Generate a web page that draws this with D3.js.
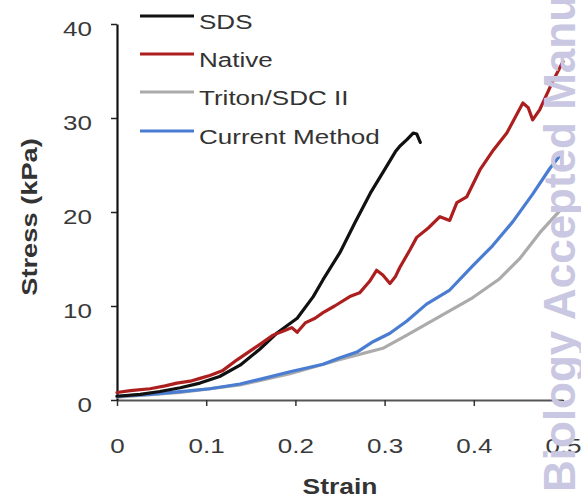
<!DOCTYPE html>
<html>
<head>
<meta charset="utf-8">
<script src="https://cdn.jsdelivr.net/npm/d3@7"></script>
<style>
  body { margin: 0; background: #fff; }
  svg { display: block; font-family: "Liberation Sans", Arial, sans-serif; }
</style>
</head>
<body>
<div id="chart"></div>
<script>
// stress-strain curves
var sdsStrain = [0, 0.026, 0.048, 0.071, 0.093, 0.115, 0.138, 0.160, 0.179, 0.202, 0.220, 0.231, 0.250, 0.267, 0.284, 0.300, 0.312, 0.317, 0.325, 0.332, 0.336, 0.340];
var sdsStress = [0.4, 0.6, 0.9, 1.3, 1.8, 2.5, 3.7, 5.4, 7.1, 8.7, 11.0, 12.8, 15.7, 18.9, 22.0, 24.5, 26.4, 27.0, 27.7, 28.4, 28.3, 27.4];

var nativeStrain = [0, 0.015, 0.037, 0.054, 0.067, 0.082, 0.093, 0.104, 0.118, 0.135, 0.149, 0.163, 0.175, 0.188, 0.196, 0.202, 0.211, 0.222, 0.231, 0.244, 0.261, 0.272, 0.283, 0.291, 0.298, 0.306, 0.312, 0.317, 0.328, 0.336, 0.349, 0.362, 0.373, 0.381, 0.392, 0.407, 0.422, 0.437, 0.446, 0.455, 0.461, 0.466, 0.474, 0.489, 0.500];
var nativeStress = [0.8, 1.0, 1.2, 1.5, 1.8, 2.0, 2.3, 2.6, 3.1, 4.3, 5.2, 6.1, 6.9, 7.4, 7.7, 7.2, 8.2, 8.7, 9.3, 10.0, 11.0, 11.4, 12.6, 13.8, 13.3, 12.4, 13.1, 14.1, 15.9, 17.3, 18.3, 19.5, 19.1, 21.0, 21.6, 24.5, 26.6, 28.4, 30.0, 31.6, 31.1, 29.8, 30.9, 34.0, 36.0];

var tritonStrain = [0, 0.071, 0.138, 0.194, 0.250, 0.298, 0.325, 0.362, 0.399, 0.429, 0.452, 0.474, 0.497];
var tritonStress = [0.3, 0.8, 1.6, 2.8, 4.3, 5.5, 6.9, 8.9, 10.9, 12.9, 15.1, 17.8, 20.2];

var currentStrain = [0, 0.037, 0.071, 0.104, 0.138, 0.160, 0.194, 0.231, 0.250, 0.269, 0.287, 0.306, 0.325, 0.347, 0.373, 0.399, 0.421, 0.444, 0.466, 0.485, 0.499];
var currentStress = [0.4, 0.6, 0.9, 1.2, 1.7, 2.2, 3.0, 3.8, 4.5, 5.1, 6.2, 7.1, 8.4, 10.2, 11.7, 14.3, 16.4, 19.0, 21.9, 24.6, 26.3];

var seriesNames = ["SDS", "Native", "Triton/SDC II", "Current Method"];
var seriesColors = ["#111111", "#ad1f1f", "#ababab", "#4a7dd2"];

var xTicks = [0, 0.1, 0.2, 0.3, 0.4, 0.5];
var yTicks = [0, 10, 20, 30, 40];

var w = 581, h = 500;
var stretch = 1.24; // the original lettering is wide, so stretch Arial sideways

var svg = d3.select("#chart").append("svg")
    .attr("width", w)
    .attr("height", h);

svg.append("rect").attr("width", w).attr("height", h).attr("fill", "#fff");

var x = d3.scaleLinear().domain([0, 0.5]).range([117, 563]);
var y = d3.scaleLinear().domain([0, 40]).range([400, 24]);

// x axis
var gx = svg.append("g")
    .attr("transform", "translate(0,400)")
    .call(d3.axisBottom(x).tickValues(xTicks).tickSize(6).tickSizeOuter(0)
        .tickFormat(function(d) { return d === 0 ? "0" : d3.format(".1f")(d); }));
gx.select(".domain").attr("stroke", "#555").attr("stroke-width", 2.2);
gx.selectAll(".tick line").attr("stroke", "#333").attr("stroke-width", 1.5);
gx.selectAll(".tick text")
    .attr("y", 53).attr("dy", 0)
    .attr("transform", "scale(" + stretch + ",1)")
    .attr("fill", "#3a3a3a")
    .style("font-size", "21px")
    .style("font-family", "'Liberation Sans', Arial, sans-serif");

// y axis
var gy = svg.append("g")
    .attr("transform", "translate(117,0)")
    .call(d3.axisLeft(y).tickValues(yTicks).tickSize(6).tickSizeOuter(0));
gy.select(".domain").attr("stroke", "#111").attr("stroke-width", 2.2);
gy.selectAll(".tick line").attr("stroke", "#222").attr("stroke-width", 1.5);
gy.selectAll(".tick text")
    .attr("x", -25 / stretch).attr("dy", 11)
    .attr("transform", "scale(" + stretch + ",1)")
    .attr("fill", "#3a3a3a")
    .style("font-size", "21px")
    .style("font-family", "'Liberation Sans', Arial, sans-serif");

// axis titles
svg.append("text")
    .attr("transform", "translate(340,494) scale(1.2,1)")
    .attr("text-anchor", "middle")
    .attr("font-weight", "bold")
    .attr("font-size", 22)
    .attr("fill", "#333")
    .text("Strain");

svg.append("text")
    .attr("transform", "translate(37,217) rotate(-90) scale(1.24,1)")
    .attr("text-anchor", "middle")
    .attr("font-weight", "bold")
    .attr("font-size", 22)
    .attr("fill", "#333")
    .text("Stress (kPa)");

// curves
var line = d3.line()
    .x(function(d) { return x(d[0]); })
    .y(function(d) { return y(d[1]); });

var curves = [
    { name: "Triton/SDC II", xs: tritonStrain, ys: tritonStress },
    { name: "Current Method", xs: currentStrain, ys: currentStress },
    { name: "SDS", xs: sdsStrain, ys: sdsStress },
    { name: "Native", xs: nativeStrain, ys: nativeStress }
];

curves.forEach(function(c) {
    var pts = c.xs.map(function(v, i) { return [v, c.ys[i]]; });
    svg.append("path")
        .datum(pts)
        .attr("d", line)
        .attr("fill", "none")
        .attr("stroke", seriesColors[seriesNames.indexOf(c.name)])
        .attr("stroke-width", 3.2)
        .attr("stroke-linejoin", "round")
        .attr("stroke-linecap", "round");
});

// legend
var legendY = [16, 54, 92, 131];
var lg = svg.append("g");
seriesNames.forEach(function(name, i) {
    lg.append("line")
        .attr("x1", 140).attr("x2", 194)
        .attr("y1", legendY[i]).attr("y2", legendY[i])
        .attr("stroke", seriesColors[i])
        .attr("stroke-width", 3.2);
    lg.append("text")
        .attr("transform", "translate(199," + (legendY[i] + 13) + ") scale(" + stretch + ",1)")
        .attr("font-size", 21)
        .attr("fill", "#333")
        .text(name);
});

// journal watermark along the right edge
svg.append("text")
    .attr("transform", "translate(575,492) rotate(-90)")
    .attr("font-weight", "bold")
    .attr("font-size", 44)
    .attr("fill", "#c9c7e1")
    .text("Biology Accepted Manuscript");
</script>
</body>
</html>
